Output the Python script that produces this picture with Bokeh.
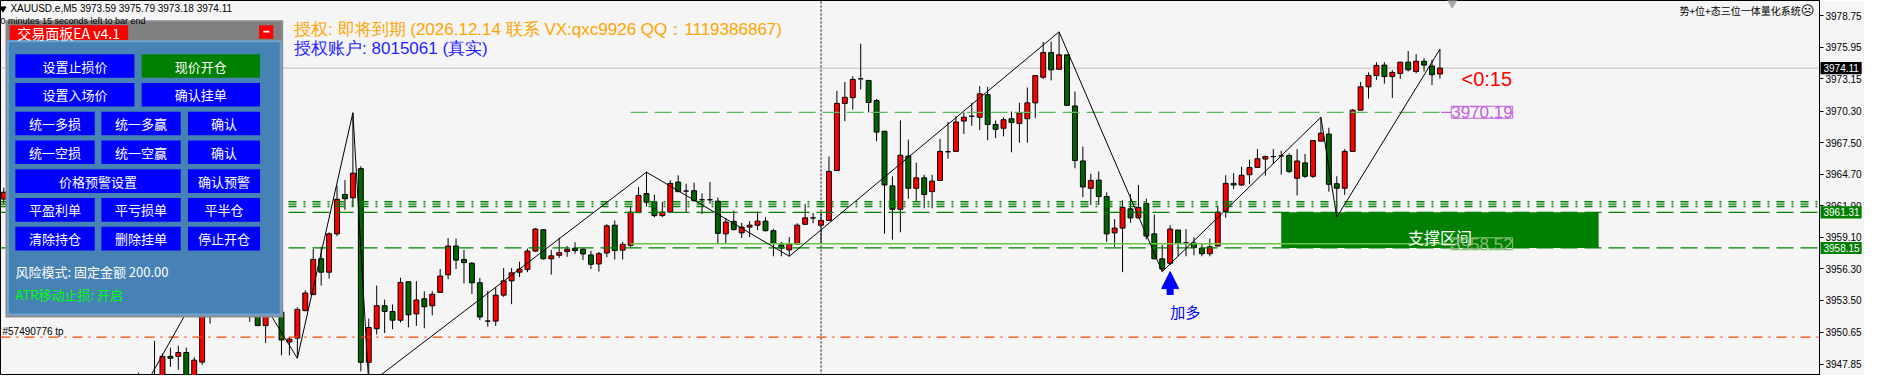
from bokeh.plotting import figure
from bokeh.models import Range1d, FixedTicker, PrintfTickFormatter, Label, Arrow, NormalHead
from bokeh.core.properties import value
from bokeh.embed import file_html
from bokeh.resources import INLINE

# ---------------- data ----------------
symbol = "XAUUSD.e,M5"
opens = [3962.49, 3963.09, 3961.81, 3962.66, 3960.96, 3959.68, 3960.36, 3958.41, 3957.81, 3958.83,
         3957.13, 3955.85, 3956.28, 3954.75, 3955.43, 3953.73, 3954.15, 3946.92, 3946.66, 3946.32,
         3946.40, 3948.53, 3948.53, 3948.87, 3946.49, 3948.02, 3954.15, 3952.87, 3956.45, 3957.81,
         3955.43, 3954.58, 3952.45, 3951.26, 3952.70, 3952.45, 3949.81, 3950.15, 3952.59, 3954.01,
         3957.19, 3956.00, 3959.40, 3962.89, 3962.60, 3965.19, 3948.00, 3950.98, 3953.02, 3952.51,
         3951.74, 3955.15, 3952.30, 3953.64, 3953.02, 3954.21, 3955.77, 3958.32, 3957.13, 3956.79,
         3955.06, 3951.66, 3951.66, 3953.96, 3955.23, 3956.00, 3956.25, 3957.87, 3959.77, 3957.19,
         3957.50, 3957.84, 3958.13, 3958.04, 3957.53, 3956.73, 3957.70, 3960.17, 3957.96, 3958.38,
         3961.28, 3962.98, 3962.24, 3961.02, 3961.33, 3964.00, 3963.20, 3963.23, 3962.43, 3962.43,
         3962.30, 3959.40, 3960.51, 3959.49, 3960.00, 3960.17, 3960.53, 3959.68, 3958.43, 3957.98,
         3958.49, 3960.25, 3960.82, 3960.17, 3960.59, 3965.02, 3970.98, 3971.49, 3973.16, 3973.02,
         3971.23, 3968.51, 3963.66, 3961.58, 3966.30, 3963.45, 3964.37, 3963.15, 3964.14, 3966.69,
         3966.72, 3969.41, 3969.84, 3969.75, 3971.75, 3969.11, 3968.77, 3969.62, 3969.19, 3969.62,
         3971.03, 3973.30, 3975.49, 3974.01, 3975.29, 3970.75, 3965.87, 3963.45, 3964.17, 3962.72,
         3959.49, 3959.91, 3961.62, 3960.82, 3962.09, 3959.40, 3957.19, 3956.79, 3959.74, 3958.60,
         3958.60, 3958.13, 3957.64, 3958.32, 3961.39, 3963.88, 3963.74, 3964.65, 3965.30, 3966.04,
         3966.26, 3966.32, 3966.35, 3964.34, 3965.70, 3964.51, 3967.63, 3968.26, 3963.85, 3963.45,
         3966.72, 3970.38, 3972.45, 3973.45, 3974.38, 3973.36, 3973.64, 3974.64, 3973.81, 3974.72,
         3974.30, 3973.59]
highs = [3963.51, 3963.30, 3963.09, 3962.83, 3961.39, 3960.70, 3960.53, 3958.83, 3959.26, 3959.00,
         3957.56, 3956.62, 3956.45, 3955.77, 3955.60, 3954.58, 3954.41, 3947.09, 3946.75, 3949.89,
         3948.79, 3949.30, 3949.47, 3949.30, 3948.45, 3954.75, 3955.43, 3957.30, 3958.66, 3958.15,
         3955.85, 3955.00, 3953.04, 3953.30, 3953.73, 3952.87, 3950.23, 3952.87, 3954.38, 3958.07,
         3958.26, 3959.54, 3963.68, 3964.17, 3970.15, 3965.41, 3951.88, 3954.81, 3953.56, 3953.13,
         3955.51, 3955.15, 3955.20, 3954.30, 3954.32, 3956.28, 3959.03, 3958.98, 3957.98, 3956.90,
         3955.49, 3954.35, 3954.66, 3956.36, 3956.36, 3956.93, 3958.09, 3959.91, 3959.83, 3957.98,
         3959.06, 3958.32, 3958.66, 3958.13, 3957.90, 3957.79, 3960.25, 3960.59, 3958.69, 3961.81,
         3963.57, 3964.88, 3962.89, 3962.24, 3964.17, 3964.60, 3963.85, 3963.94, 3963.00, 3964.00,
         3962.64, 3960.82, 3961.47, 3960.39, 3960.53, 3961.39, 3960.90, 3959.85, 3958.69, 3959.11,
         3960.34, 3962.04, 3961.24, 3961.24, 3966.26, 3972.09, 3972.88, 3973.39, 3976.28, 3973.02,
         3971.37, 3968.51, 3964.51, 3969.47, 3967.77, 3965.73, 3964.65, 3964.65, 3967.83, 3969.33,
         3969.84, 3970.18, 3971.03, 3972.51, 3972.45, 3969.47, 3969.75, 3970.26, 3971.03, 3972.39,
         3973.45, 3976.43, 3976.48, 3977.33, 3975.29, 3972.03, 3967.15, 3964.73, 3964.94, 3963.09,
         3960.70, 3962.38, 3962.94, 3963.74, 3962.52, 3961.11, 3958.41, 3960.17, 3959.74, 3959.83,
         3959.11, 3958.55, 3958.98, 3961.90, 3964.60, 3964.79, 3965.36, 3965.98, 3966.92, 3966.35,
         3966.92, 3966.77, 3966.55, 3966.92, 3966.49, 3967.68, 3969.75, 3968.82, 3964.51, 3966.92,
         3970.47, 3972.88, 3973.73, 3974.64, 3974.64, 3973.92, 3974.64, 3975.63, 3975.35, 3975.00,
         3974.86, 3975.79]
lows = [3962.07, 3961.39, 3961.56, 3960.53, 3959.26, 3959.00, 3957.98, 3957.13, 3957.47, 3956.70,
        3955.43, 3955.00, 3954.15, 3953.73, 3953.04, 3952.70, 3952.19, 3946.23, 3946.15, 3946.23,
        3946.23, 3947.60, 3947.34, 3946.40, 3946.32, 3947.77, 3951.43, 3952.45, 3955.85, 3955.00,
        3952.87, 3951.60, 3951.26, 3949.72, 3952.19, 3948.62, 3948.62, 3948.36, 3952.53, 3953.98,
        3954.81, 3955.43, 3959.20, 3961.53, 3961.81, 3947.20, 3946.06, 3950.47, 3950.60, 3950.94,
        3951.54, 3951.11, 3951.23, 3951.03, 3952.17, 3954.21, 3955.37, 3956.28, 3955.00, 3954.07,
        3951.74, 3951.17, 3951.23, 3953.81, 3953.16, 3955.57, 3956.00, 3957.81, 3957.13, 3955.79,
        3957.27, 3957.36, 3957.64, 3957.07, 3956.28, 3956.05, 3957.33, 3957.13, 3957.13, 3958.13,
        3961.28, 3961.81, 3960.88, 3960.88, 3961.30, 3963.09, 3961.33, 3962.24, 3961.16, 3962.07,
        3958.49, 3958.60, 3959.68, 3959.03, 3959.11, 3959.74, 3959.62, 3957.41, 3957.41, 3957.41,
        3958.49, 3960.25, 3960.34, 3958.55, 3960.59, 3965.02, 3969.41, 3970.43, 3972.22, 3970.18,
        3967.63, 3959.40, 3958.89, 3959.54, 3962.52, 3962.24, 3961.67, 3961.67, 3964.14, 3966.07,
        3966.72, 3968.26, 3968.99, 3968.62, 3967.71, 3967.91, 3968.05, 3966.64, 3967.49, 3967.49,
        3969.67, 3973.16, 3973.02, 3974.01, 3970.75, 3965.22, 3962.66, 3961.96, 3961.96, 3958.69,
        3958.26, 3956.00, 3960.39, 3960.79, 3958.92, 3957.13, 3956.05, 3956.62, 3957.41, 3957.41,
        3957.50, 3957.41, 3957.41, 3958.32, 3960.82, 3963.37, 3963.66, 3963.80, 3965.30, 3964.56,
        3965.64, 3964.65, 3964.79, 3962.81, 3964.37, 3964.37, 3967.63, 3963.15, 3960.88, 3962.86,
        3966.72, 3970.38, 3971.40, 3973.07, 3972.73, 3971.46, 3973.16, 3973.81, 3973.64, 3973.81,
        3972.60, 3973.18]
closes = [3963.09, 3961.81, 3962.66, 3960.96, 3959.68, 3960.36, 3958.41, 3957.81, 3958.83, 3957.13,
          3955.85, 3956.28, 3954.75, 3955.43, 3953.73, 3954.15, 3952.87, 3946.40, 3946.32, 3946.75,
          3948.53, 3948.36, 3948.87, 3946.66, 3948.19, 3954.15, 3952.87, 3956.70, 3957.81, 3955.43,
          3954.58, 3952.45, 3951.26, 3952.70, 3953.30, 3949.98, 3950.06, 3952.70, 3954.15, 3957.13,
          3956.00, 3959.40, 3962.47, 3962.52, 3964.79, 3948.00, 3951.09, 3953.02, 3952.51, 3951.74,
          3955.09, 3952.22, 3953.53, 3952.93, 3954.04, 3955.66, 3958.32, 3957.07, 3956.85, 3955.06,
          3952.02, 3951.66, 3953.96, 3955.23, 3955.94, 3956.28, 3957.87, 3959.83, 3957.19, 3957.45,
          3957.73, 3958.04, 3957.92, 3957.62, 3956.70, 3957.64, 3960.11, 3957.92, 3958.47, 3961.33,
          3962.81, 3962.21, 3961.02, 3961.33, 3963.88, 3963.15, 3963.20, 3962.35, 3962.43, 3962.43,
          3959.45, 3960.45, 3959.79, 3960.00, 3960.17, 3960.53, 3959.68, 3958.55, 3958.13, 3958.49,
          3960.17, 3960.82, 3960.82, 3960.59, 3964.94, 3970.98, 3971.52, 3973.11, 3973.16, 3971.06,
          3968.43, 3963.74, 3961.58, 3966.38, 3963.45, 3964.37, 3962.89, 3964.08, 3966.72, 3966.69,
          3969.33, 3969.75, 3969.84, 3971.83, 3969.11, 3968.68, 3969.53, 3969.28, 3970.13, 3971.03,
          3973.45, 3975.49, 3973.96, 3975.29, 3970.81, 3965.92, 3963.57, 3964.14, 3962.72, 3959.40,
          3959.91, 3961.75, 3960.82, 3961.75, 3959.20, 3957.19, 3956.28, 3959.83, 3958.55, 3958.60,
          3958.18, 3957.64, 3958.26, 3961.33, 3963.88, 3963.74, 3964.60, 3965.28, 3966.07, 3966.26,
          3966.26, 3966.32, 3964.94, 3965.87, 3964.51, 3967.68, 3968.34, 3963.80, 3963.45, 3966.72,
          3970.38, 3972.45, 3973.45, 3974.35, 3973.36, 3973.73, 3974.64, 3973.96, 3974.72, 3974.38,
          3973.53, 3974.11]

price_ticks = [3947.85, 3950.65, 3953.50, 3956.30, 3959.10, 3961.90,
               3964.70, 3967.50, 3970.30, 3973.15, 3975.95, 3978.75]

zz_idx = [18, 28, 37, 44, 46, 81, 99, 133, 146, 166, 168, 181]
zz_kind = ["L", "H", "L", "H", "L", "H", "L", "H", "L", "H", "L", "H"]

order_levels = [3962.25, 3962.04, 3961.83]      # dash-dot order lines
zone_top, zone_bottom = 3961.31, 3958.15         # support zone
zone_start, zone_end = 161, 201
zone_text = "支撑区间"
pending_start = 79
pending_dash_price = 3970.19
pending_solid_price = 3958.52
tp_price = 3950.23
tp_text = "#57490776 tp"
buy_idx, buy_price, buy_text = 147, 3956.05, "加多"
separator_idx = 103
countdown = "<0:15"
bar_left_text = "0 minutes 15 seconds left to bar end"
lic_text = "授权: 即将到期 (2026.12.14 联系 VX:qxc9926 QQ：1119386867)"
acct_text = "授权账户: 8015061 (真实)"
system_text = "势+位+态三位一体量化系统"

panel_title = "交易面板EA v4.1"
panel_rows = [
    [("设置止损价", "blue2a"), ("现价开仓", "green2b")],
    [("设置入场价", "blue2a"), ("确认挂单", "blue2b")],
    [("统一多损", "blue3a"), ("统一多赢", "blue3b"), ("确认", "blue3c")],
    [("统一空损", "blue3a"), ("统一空赢", "blue3b"), ("确认", "blue3c")],
    [("价格预警设置", "blue5a"), ("确认预警", "blue3c")],
    [("平盈利单", "blue3a"), ("平亏损单", "blue3b"), ("平半仓", "blue3c")],
    [("清除持仓", "blue3a"), ("删除挂单", "blue3b"), ("停止开仓", "blue3c")],
]
risk_text = "风险模式: 固定金额 200.00"
atr_text = "ATR移动止损: 开启"

# ---------------- layout helpers (reference pixel -> data) ----------------
def X(px):
    return (px - 3.3) / 8.0

def Y(py):
    return 3978.75 - (py - 16.0) * 0.08512

PPX = 0.08512
CJK = "Noto Sans CJK SC"
LAT = "Liberation Sans"

p = figure(width=1864, height=375,
           x_range=Range1d(X(0), X(1834)), y_range=Range1d(Y(391), Y(0)),
           output_backend="svg", toolbar_location=None,
           y_axis_location="right", x_axis_location=None,
           background_fill_color="#F5F5F5", border_fill_color="#F5F5F5",
           min_border=0)
p.grid.visible = False
p.outline_line_color = "black"

ax = p.yaxis[0]
ax.ticker = FixedTicker(ticks=price_ticks)
ax.formatter = PrintfTickFormatter(format="%.2f")
ax.major_label_text_font_size = "10px"
ax.major_label_text_font = LAT
ax.major_label_text_color = "black"
ax.major_tick_out = 4
ax.major_tick_in = 0
ax.minor_tick_line_color = None
ax.axis_line_color = "black"
ax.major_tick_line_color = "black"
ax.major_label_standoff = 2

n = len(opens)
idx = list(range(n))
x_left, x_right = X(0), X(1834)

# bid line and separator (under candles)
bid = closes[-1]
p.segment(x0=[x_left], y0=[bid], x1=[x_right], y1=[bid], line_color="#C0C0C0", line_width=1)
p.segment(x0=[separator_idx], y0=[Y(391)], x1=[separator_idx], y1=[Y(0)],
          line_color="black", line_width=1, line_dash="2 2")

# candles
cols = ["#FF0000" if c >= o else "#006400" for o, c in zip(opens, closes)]
p.segment(x0=idx, y0=lows, x1=idx, y1=highs, line_color="black", line_width=1)
p.vbar(x=idx, width=0.62, top=[max(o, c) for o, c in zip(opens, closes)],
       bottom=[min(o, c) for o, c in zip(opens, closes)],
       fill_color=cols, line_color="black", line_width=1)

# support zone
p.quad(left=[zone_start], right=[zone_end], top=[zone_top], bottom=[zone_bottom],
       fill_color="#008000", line_color=None)

# horizontal lines
for lv in order_levels:
    p.segment(x0=[x_left], y0=[lv], x1=[x_right], y1=[lv], line_color="#008000",
              line_width=1.4, line_dash="8 7 2 7")
for lv in (zone_top, zone_bottom):
    p.segment(x0=[x_left], y0=[lv], x1=[x_right], y1=[lv], line_color="#008000",
              line_width=1.2, line_dash="17 7")
p.segment(x0=[x_left], y0=[tp_price], x1=[x_right], y1=[tp_price], line_color="#FF4500",
          line_width=1.2, line_dash="10 6 2 6")

last = n - 1
lab_x = last + 1.42
p.segment(x0=[pending_start], y0=[pending_dash_price], x1=[last + 0.15], y1=[pending_dash_price],
          line_color="#5CB85C", line_width=1.2, line_dash="17 7")
p.segment(x0=[last + 0.15], y0=[pending_dash_price], x1=[lab_x], y1=[pending_dash_price],
          line_color="#C060E0", line_width=1.2)
p.segment(x0=[pending_start], y0=[pending_solid_price], x1=[lab_x], y1=[pending_solid_price],
          line_color="#6CC64A", line_width=1.5)

# zigzag
zz_y = [lows[i] if k == "L" else highs[i] for i, k in zip(zz_idx, zz_kind)]
p.line(zz_idx, zz_y, line_color="black", line_width=1)

def txt(px, py, s, size, color, font=CJK, align="left", baseline="middle", level="glyph"):
    p.text(x=[X(px)], y=[Y(py)], text=[s], text_font=value(font), text_font_size=size,
           text_color=color, text_align=align, text_baseline=baseline, level=level)

# zone text
p.text(x=[(zone_start + zone_end) / 2.0], y=[zone_bottom + 0.30 * (zone_top - zone_bottom)],
       text=[zone_text], text_font=value(CJK), text_font_size="16px", text_color="white",
       text_align="center", text_baseline="middle")

# buy signal
arr = Arrow(end=NormalHead(size=17, fill_color="#0000FF", line_color="#0000FF"),
            x_start=buy_idx, y_start=buy_price - 24.5 * PPX, x_end=buy_idx, y_end=buy_price,
            line_color="#0000FF", line_width=7)
p.add_layout(arr)
p.text(x=[buy_idx], y=[buy_price - 42 * PPX], text=[buy_text], text_font=value(CJK),
       text_font_size="15px", text_color="#0000FF", text_align="left", text_baseline="middle")

# countdown and misc texts
txt(1473, 82, countdown, "20px", "#FF0000", font=LAT)
txt(2, 345.5, tp_text, "10px", "black", font=LAT)
txt(296, 30, lic_text, "17px", "#FFA500", font=LAT)
txt(296, 50, acct_text, "17px", "#1F1FFF", font=LAT)
txt(1815, 10.5, system_text, "10px", "black", align="right")
txt(1822, 10, "\u2639", "13px", "black", font="DejaVu Sans", align="center")
p.scatter(x=[X(1463.7)], y=[Y(2.5)], marker="inverted_triangle", size=9, color="#A8A8A8")

# price labels (boxes) inside the chart
p.add_layout(Label(x=lab_x, y=pending_dash_price, text=f"{pending_dash_price:.2f}",
                   text_font=LAT, text_font_size="17px", text_color="#C060E0",
                   text_baseline="middle", text_align="left",
                   border_line_color="#C060E0", border_line_width=1, padding=0))
p.add_layout(Label(x=lab_x, y=pending_solid_price, text=f"{pending_solid_price:.2f}",
                   text_font=LAT, text_font_size="17px", text_color="#8DB57A",
                   text_baseline="middle", text_align="left",
                   border_line_color="#7CCD6C", border_line_width=1, padding=0))

# axis price boxes: overlay-level glyphs are not clipped to the frame
box_levels = [bid, zone_top, zone_bottom]
box_colors = ["black", "#008000", "#008000"]
p.quad(left=[X(1835)] * 3, right=[X(1876.5)] * 3,
       top=[lv + 6.3 * PPX for lv in box_levels], bottom=[lv - 6.3 * PPX for lv in box_levels],
       fill_color=box_colors, line_color=None, level="overlay")
p.text(x=[X(1838)] * 3, y=box_levels, text=[f"{lv:.2f}" for lv in box_levels],
       text_font=value(LAT), text_font_size="10px", text_color="white",
       text_align="left", text_baseline="middle", level="overlay")

# ---------------- trade panel ----------------
def box(x0, x1, y0, y1, color, line=None, lw=1):
    p.quad(left=[X(x0)], right=[X(x1)], top=[Y(y0)], bottom=[Y(y1)],
           fill_color=color, line_color=line, line_width=lw)

box(5, 285, 20.5, 330.5, "#8C8C8C")
box(7, 283, 22.5, 42.5, "#808080")
box(7.5, 282.5, 42.5, 327.5, "#4682B4", line="#6FA3D3", lw=2)
box(9.3, 128.7, 25.7, 41.3, "#FF0000")
txt(17, 33.5, panel_title, "14px", "white")
box(260.7, 275, 25.7, 40, "#FF0000")
box(265, 271, 31.5, 33.3, "white")

col_spans = {
    "blue2a": (15, 135), "blue2b": (142.3, 261.7), "green2b": (142.3, 261.7),
    "blue3a": (15, 95), "blue3b": (101.7, 181.7), "blue3c": (189, 261.7),
    "blue5a": (15, 181.7),
}
row_tops = [56, 86, 116, 146, 176, 206, 236]
for r, row in enumerate(panel_rows):
    y0 = row_tops[r]
    y1 = y0 + 24.6
    for label, kind in row:
        x0, x1 = col_spans[kind]
        box(x0, x1, y0, y1, "#008000" if kind.startswith("green") else "#0000FF")
        txt((x0 + x1) / 2.0, (y0 + y1) / 2.0, label, "13px", "white", align="center")

txt(15, 282.5, risk_text, "13px", "white")
txt(15, 307, atr_text, "13px", "#00FF00")

# chart header (drawn over panel edge)
p.scatter(x=[X(2.5)], y=[Y(8.5)], marker="inverted_triangle", size=6, color="black")
txt(10, 8.5, f"{symbol}  {opens[-1]:.2f} {highs[-1]:.2f} {lows[-1]:.2f} {closes[-1]:.2f}",
    "10px", "black", font=LAT)
txt(0, 21.5, bar_left_text, "9px", "black", font=LAT)

open("out.html", "w").write(file_html(p, INLINE))
